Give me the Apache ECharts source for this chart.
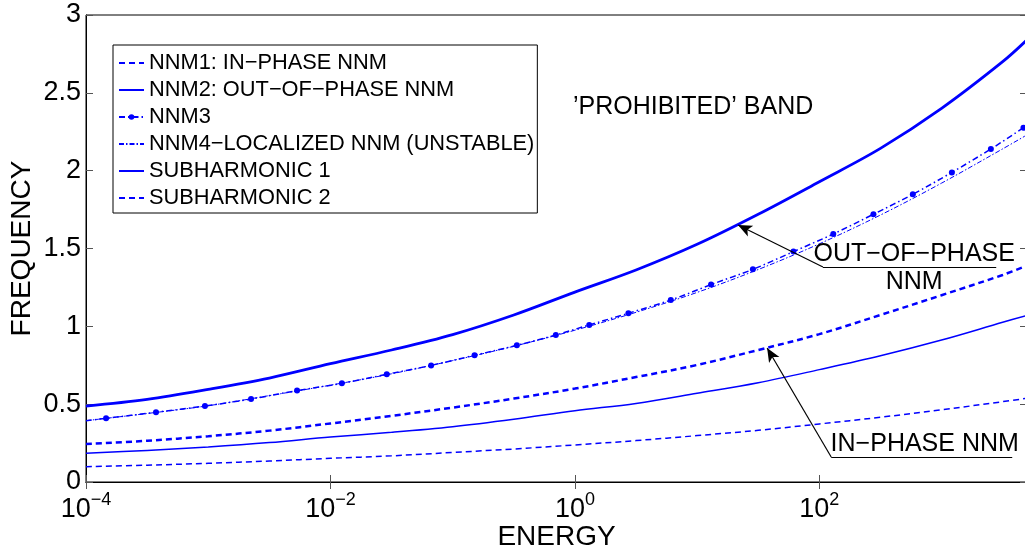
<!DOCTYPE html>
<html>
<head>
<meta charset="utf-8">
<script src="https://cdn.jsdelivr.net/npm/echarts@6/dist/echarts.min.js"></script>
<style>html,body{margin:0;padding:0;background:#fff}#c{width:1025px;height:552px}</style>
</head>
<body>
<div id="c"></div>
<script>
// ---- data ----
const energy = [1e-4, 3.162e-4, 1e-3, 3.162e-3, 1e-2, 3.162e-2, 0.1, 0.3162, 1, 3.162, 10, 31.62, 100, 316.2, 1000, 3162, 5000];
const nnm1 = [0.244, 0.265, 0.294, 0.330, 0.376, 0.425, 0.478, 0.536, 0.600, 0.674, 0.752, 0.848, 0.950, 1.073, 1.200, 1.330, 1.390];
const nnm2 = [0.488, 0.531, 0.595, 0.668, 0.760, 0.848, 0.947, 1.073, 1.220, 1.362, 1.527, 1.720, 1.929, 2.143, 2.400, 2.700, 2.840];
const nnm4 = [0.394, 0.440, 0.490, 0.555, 0.622, 0.695, 0.780, 0.872, 0.975, 1.090, 1.218, 1.365, 1.530, 1.715, 1.920, 2.140, 2.230];
const sub1 = [0.184, 0.203, 0.225, 0.253, 0.289, 0.319, 0.355, 0.403, 0.458, 0.505, 0.570, 0.638, 0.722, 0.811, 0.912, 1.026, 1.070];
const sub2 = [0.098, 0.108, 0.120, 0.135, 0.152, 0.168, 0.190, 0.212, 0.238, 0.266, 0.298, 0.332, 0.373, 0.416, 0.464, 0.516, 0.538];
const nnm3Energy = [1e-4, 1.46e-4, 3.74e-4, 9.4e-4, 2.24e-3, 5.33e-3, 0.0124, 0.0289, 0.0666, 0.151, 0.335, 0.698, 1.31, 2.74, 6.09, 13.0, 28.6, 61.4, 130, 277, 582, 1214, 2531, 4677];
const nnm3 = [0.394, 0.409, 0.448, 0.488, 0.533, 0.587, 0.634, 0.692, 0.749, 0.814, 0.878, 0.944, 1.009, 1.084, 1.169, 1.268, 1.366, 1.480, 1.593, 1.720, 1.848, 1.989, 2.139, 2.276];
const yTicks = [0, 0.5, 1, 1.5, 2, 2.5, 3];
const names = ['NNM1: IN\u2212PHASE NNM', 'NNM2: OUT\u2212OF\u2212PHASE NNM', 'NNM3', 'NNM4\u2212LOCALIZED NNM (UNSTABLE)', 'SUBHARMONIC 1', 'SUBHARMONIC 2'];

const FONT = 'Liberation Sans, Arial, Helvetica, sans-serif';
const BLUE = '#0000ff';
const pairs = (xs, ys) => xs.map((x, i) => [x, ys[i]]);
const nnm3Data = nnm3Energy.map((x, i) => i === 0 ? { value: [x, nnm3[i]], symbol: 'none' } : [x, nnm3[i]]);

const chart = echarts.init(document.getElementById('c'), null, { renderer: 'canvas' });

const logAxisBase = {
  type: 'log', logBase: 10, min: 1e-4, max: 5000, interval: 2,
  axisLine: { show: true, lineStyle: { color: '#000', width: 1 } },
  axisTick: { show: true, inside: true, length: 7, lineStyle: { color: '#555' } },
  splitLine: { show: false }, minorTick: { show: false }
};
const valAxisBase = {
  type: 'value', min: 0, max: 3, interval: 0.5,
  axisLine: { show: true, lineStyle: { color: '#000', width: 1 } },
  axisTick: { show: true, inside: true, length: 7, lineStyle: { color: '#555' } },
  splitLine: { show: false }
};

const lineSeries = (name, data, ls, extra) => Object.assign({
  name, type: 'line', data, smooth: 0.35, symbol: 'none',
  lineStyle: Object.assign({ color: BLUE }, ls),
  itemStyle: { color: BLUE }, emphasis: { disabled: true }, z: 3
}, extra || {});

const hiddenSym = { color: 'rgba(0,0,0,0)', borderWidth: 0, opacity: 0 };

chart.setOption({
  animation: false,
  backgroundColor: '#fff',
  textStyle: { fontFamily: FONT },
  grid: { left: 86, top: 15, right: -2, bottom: 70, show: true, borderColor: '#000', borderWidth: 1,
          containLabel: false, outerBoundsMode: 'none' },
  legend: {
    data: names.map((n, i) => i === 2 ? { name: n } : { name: n, itemStyle: hiddenSym }),
    orient: 'vertical', left: 113, top: 45,
    padding: [7, 3, 4, 5], itemGap: 5, itemWidth: 25, itemHeight: 7,
    borderColor: '#000', borderWidth: 1, backgroundColor: '#fff',
    textStyle: { fontFamily: FONT, fontSize: 21.8, color: '#000', lineHeight: 20 },
    selectedMode: false, z: 10
  },
  xAxis: [
    Object.assign({}, logAxisBase, {
      position: 'bottom',
      name: 'ENERGY', nameLocation: 'middle', nameGap: 41, nameMoveOverlap: false,
      nameTextStyle: { fontFamily: FONT, fontSize: 28, color: '#000' },
      axisLabel: {
        show: true, margin: 9, showMaxLabel: false,
        formatter: v => {
          const e = Math.log10(v);
          if (Math.abs(e - Math.round(e)) > 1e-6) return '';
          const r = Math.round(e);
          return '{b|10}{s|' + (r < 0 ? '\u2212' + (-r) : r) + '}';
        },
        rich: {
          b: { fontFamily: FONT, fontSize: 27, color: '#000', verticalAlign: 'bottom' },
          s: { fontFamily: FONT, fontSize: 18, color: '#000', verticalAlign: 'bottom', padding: [0, 0, 14, 0] }
        }
      }
    }),
    Object.assign({}, logAxisBase, { position: 'top', axisLabel: { show: false } })
  ],
  yAxis: [
    Object.assign({}, valAxisBase, {
      position: 'left',
      name: 'FREQUENCY', nameLocation: 'middle', nameGap: 50, nameMoveOverlap: false,
      nameTextStyle: { fontFamily: FONT, fontSize: 28, color: '#000' },
      axisLabel: { show: true, margin: 5, fontFamily: FONT, fontSize: 27, color: '#000',
        formatter: v => yTicks.indexOf(v) >= 0 ? String(v) : '' }
    }),
    Object.assign({}, valAxisBase, { position: 'right', axisLabel: { show: false } })
  ],
  series: [
    lineSeries(names[0], pairs(energy, nnm1), { width: 2.5, type: [6, 4] }),
    lineSeries(names[1], pairs(energy, nnm2), { width: 2.8, type: 'solid' }),
    lineSeries(names[2], nnm3Data, { width: 1.5, type: [6, 3, 1.5, 3] },
      { symbol: 'circle', symbolSize: 6, showSymbol: true, smooth: 0.3 }),
    lineSeries(names[3], pairs(energy, nnm4), { width: 1, type: [5, 2, 1.5, 2] }),
    lineSeries(names[4], pairs(energy, sub1), { width: 1.5, type: 'solid' }),
    lineSeries(names[5], pairs(energy, sub2), { width: 1.5, type: [6, 4] }),
    {
      name: 'annotations', type: 'line', data: [], silent: true, z: 5,
      markLine: {
        silent: true, symbol: ['none', 'none'], symbolSize: [9, 14],
        label: { show: false }, emphasis: { disabled: true },
        lineStyle: { color: '#000', width: 1.2, type: 'solid' },
        data: [
          [{ coord: [107, 1.381], symbol: 'none' }, { coord: [21.6, 1.651], symbol: 'arrow' }],
          [{ coord: [107, 1.381] }, { coord: [2800, 1.381] }],
          [{ coord: [125, 0.161], symbol: 'none' }, { coord: [37.4, 0.861], symbol: 'arrow' }],
          [{ coord: [125, 0.161] }, { coord: [3785, 0.161] }]
        ]
      },
      markPoint: {
        silent: true, symbol: 'circle', symbolSize: 1,
        itemStyle: { color: 'rgba(0,0,0,0)' },
        label: { show: true, position: 'inside', color: '#000', fontFamily: FONT, fontSize: 25, lineHeight: 28, align: 'center',
          formatter: p => p.name },
        data: [
          { name: '\u2019PROHIBITED\u2019 BAND', coord: [9.27, 2.409] },
          { name: 'OUT\u2212OF\u2212PHASE\nNNM', coord: [597, 1.375] },
          { name: 'IN\u2212PHASE NNM', coord: [728, 0.244] }
        ]
      }
    }
  ]
});
</script>
</body>
</html>
